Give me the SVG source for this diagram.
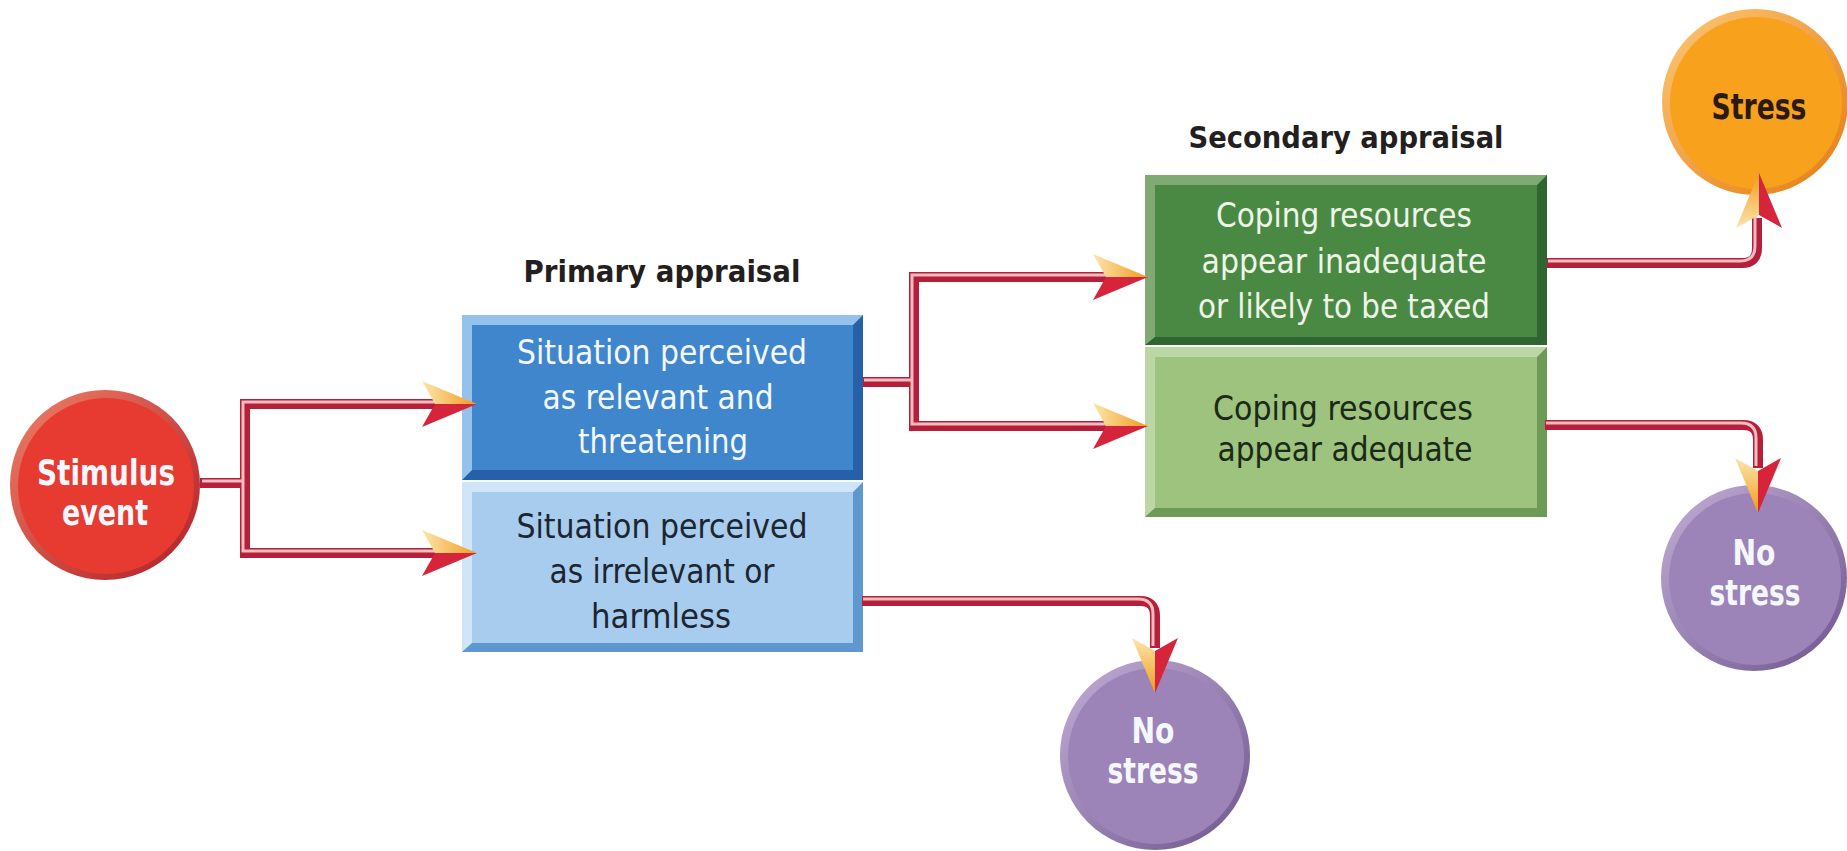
<svg xmlns="http://www.w3.org/2000/svg" xmlns:xlink="http://www.w3.org/1999/xlink" width="1847" height="851" viewBox="0 0 1847 851">
<style>
  text { font-family: "DejaVu Sans Condensed", "Liberation Sans Narrow", "Liberation Sans", sans-serif; text-anchor: middle; }
  .box { font-size: 34px; }
  .head { font-size: 31px; font-weight: bold; fill: #231f20; }
  .lbl { font-size: 36px; font-weight: bold; }
  .w { fill: #f4f8fc; }
  .dk { fill: #1c2630; }
  .pipe { fill: none; stroke: #b61f3a; stroke-width: 10; stroke-linejoin: miter; }
  .hl { fill: none; stroke: #f2bcc0; stroke-width: 3; stroke-linejoin: miter; }
</style>
<defs>
  <linearGradient id="ahTop" x1="0" y1="0" x2="1" y2="0">
    <stop offset="0" stop-color="#fbe6ad"/>
    <stop offset="1" stop-color="#f39a1c"/>
  </linearGradient>
  <linearGradient id="rimRed" x1="0" y1="0" x2="1" y2="1">
    <stop offset="0" stop-color="#ef8068"/>
    <stop offset="1" stop-color="#b01c25"/>
  </linearGradient>
  <linearGradient id="rimOrange" x1="0" y1="0" x2="1" y2="1">
    <stop offset="0" stop-color="#fcc878"/>
    <stop offset="1" stop-color="#e67a10"/>
  </linearGradient>
  <linearGradient id="rimPurple" x1="0" y1="0" x2="1" y2="1">
    <stop offset="0" stop-color="#c2afd6"/>
    <stop offset="1" stop-color="#6e558e"/>
  </linearGradient>
  <g id="ah">
    <polygon points="0,0 -55,-23 -42,0" fill="url(#ahTop)"/>
    <polygon points="0,0 -42,0 -55,23" fill="#d6243b"/>
  </g>
</defs>

<!-- Headings -->
<text class="head" x="662" y="282" textLength="277" lengthAdjust="spacingAndGlyphs">Primary appraisal</text>
<text class="head" x="1346" y="148" textLength="315" lengthAdjust="spacingAndGlyphs">Secondary appraisal</text>

<!-- Stimulus event -->
<g id="stimulus">
  <circle cx="105" cy="485" r="95" fill="url(#rimRed)"/>
  <circle cx="106" cy="486" r="88" fill="#e73a30"/>
  <text class="lbl w" x="106" y="485" textLength="138" lengthAdjust="spacingAndGlyphs">Stimulus</text>
  <text class="lbl w" x="105" y="525" textLength="86" lengthAdjust="spacingAndGlyphs">event</text>
</g>

<!-- Primary appraisal boxes -->
<g id="relevant">
  <rect x="462" y="315" width="401" height="165" fill="#2560a8"/>
  <polygon points="462,315 863,315 853,325 472,325 472,470 462,480" fill="#94c2ea"/>
  <rect x="472" y="325" width="381" height="145" fill="#3f86cc"/>
  <text class="box w" x="662" y="364" textLength="290" lengthAdjust="spacingAndGlyphs">Situation perceived</text>
  <text class="box w" x="658" y="409" textLength="231" lengthAdjust="spacingAndGlyphs">as relevant and</text>
  <text class="box w" x="663" y="453" textLength="170" lengthAdjust="spacingAndGlyphs">threatening</text>
</g>
<g id="irrelevant">
  <rect x="462" y="482" width="401" height="170" fill="#5f97cf"/>
  <polygon points="462,482 863,482 853,492 472,492 472,643 462,652" fill="#d0e5f7"/>
  <rect x="472" y="492" width="381" height="151" fill="#a8ccee"/>
  <text class="box dk" x="662" y="538" textLength="291" lengthAdjust="spacingAndGlyphs">Situation perceived</text>
  <text class="box dk" x="662" y="583" textLength="225" lengthAdjust="spacingAndGlyphs">as irrelevant or</text>
  <text class="box dk" x="661" y="628" textLength="140" lengthAdjust="spacingAndGlyphs">harmless</text>
</g>

<!-- Secondary appraisal boxes -->
<g id="inadequate">
  <rect x="1145" y="175" width="402" height="170" fill="#2e6530"/>
  <polygon points="1145,175 1547,175 1537,185 1155,185 1155,337 1145,345" fill="#7faa74"/>
  <rect x="1155" y="185" width="382" height="152" fill="#4a8943"/>
  <text class="box" fill="#eef4e8" x="1344" y="227" textLength="256" lengthAdjust="spacingAndGlyphs">Coping resources</text>
  <text class="box" fill="#eef4e8" x="1344" y="273" textLength="285" lengthAdjust="spacingAndGlyphs">appear inadequate</text>
  <text class="box" fill="#eef4e8" x="1344" y="318" textLength="292" lengthAdjust="spacingAndGlyphs">or likely to be taxed</text>
</g>
<g id="adequate">
  <rect x="1145" y="347" width="402" height="170" fill="#6d9a56"/>
  <polygon points="1145,347 1547,347 1537,357 1155,357 1155,508 1145,517" fill="#bad7a4"/>
  <rect x="1155" y="357" width="382" height="151" fill="#9dc37f"/>
  <text class="box" fill="#1b2a16" x="1343" y="420" textLength="260" lengthAdjust="spacingAndGlyphs">Coping resources</text>
  <text class="box" fill="#1b2a16" x="1345" y="461" textLength="255" lengthAdjust="spacingAndGlyphs">appear adequate</text>
</g>

<!-- Outcome circles -->
<g id="stress">
  <circle cx="1755" cy="102" r="93" fill="url(#rimOrange)"/>
  <circle cx="1756" cy="103" r="86" fill="#f7a11c"/>
  <text class="lbl" fill="#2a1a10" x="1759" y="119" textLength="95" lengthAdjust="spacingAndGlyphs">Stress</text>
</g>
<g id="nostress-right">
  <circle cx="1754" cy="578" r="93" fill="url(#rimPurple)"/>
  <circle cx="1755" cy="579" r="86" fill="#9c84b8"/>
  <text class="lbl w" x="1754" y="565" textLength="43" lengthAdjust="spacingAndGlyphs">No</text>
  <text class="lbl w" x="1755" y="605" textLength="91" lengthAdjust="spacingAndGlyphs">stress</text>
</g>
<g id="nostress-bottom">
  <circle cx="1155" cy="755" r="95" fill="url(#rimPurple)"/>
  <circle cx="1156" cy="756" r="88" fill="#9c84b8"/>
  <text class="lbl w" x="1153" y="743" textLength="43" lengthAdjust="spacingAndGlyphs">No</text>
  <text class="lbl w" x="1153" y="783" textLength="91" lengthAdjust="spacingAndGlyphs">stress</text>
</g>

<!-- Connectors -->
<g id="connectors">
  <path class="pipe" d="M200,483 H245 M440,404 H245 V553 H440"/>
  <path class="hl" d="M204,483 H245 M440,404 H245 V553 H440" transform="translate(-2,-2)"/>
  <path class="pipe" d="M863,382 H914 M1110,277 H914 V426 H1110"/>
  <path class="hl" d="M866,382 H914 M1110,277 H914 V426 H1110" transform="translate(-2,-2)"/>
  <path class="pipe" d="M862,601 H1140 Q1155,601 1155,616 V648"/>
  <path class="hl" d="M865,601 H1140 Q1155,601 1155,616 V648" transform="translate(-2,-2)"/>
  <path class="pipe" d="M1547,263 H1742 Q1757,263 1757,248 V218"/>
  <path class="hl" d="M1550,263 H1742 Q1757,263 1757,248 V218" transform="translate(-2,-2)"/>
  <path class="pipe" d="M1545,425 H1743 Q1758,425 1758,440 V468"/>
  <path class="hl" d="M1548,425 H1743 Q1758,425 1758,440 V468" transform="translate(-2,-2)"/>
  <use xlink:href="#ah" href="#ah" transform="translate(477,404)"/>
  <use xlink:href="#ah" href="#ah" transform="translate(477,553)"/>
  <use xlink:href="#ah" href="#ah" transform="translate(1148,277)"/>
  <use xlink:href="#ah" href="#ah" transform="translate(1148,426)"/>
  <use xlink:href="#ah" href="#ah" transform="translate(1155,693) rotate(90) scale(1,-1)"/>
  <use xlink:href="#ah" href="#ah" transform="translate(1758,513) rotate(90) scale(1,-1)"/>
  <use xlink:href="#ah" href="#ah" transform="translate(1759,173) rotate(-90)"/>
</g>
</svg>
